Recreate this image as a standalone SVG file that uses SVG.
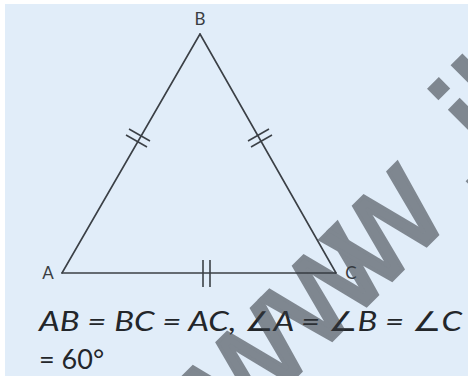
<svg xmlns="http://www.w3.org/2000/svg" width="468" height="376" viewBox="0 0 468 376">
  <style>
    .edge { stroke: #3b4046; stroke-width: 1.6; fill: none; stroke-linecap: round; }
    .tick { stroke: #3b4046; stroke-width: 1.6; fill: none; }
    .lbl { font-family: Lato, "Open Sans", "DejaVu Sans", sans-serif; font-size: 17px; fill: #3a3d42; }
    .eq { font-family: Lato, "DejaVu Sans", sans-serif; font-size: 27px; fill: #23262a; }
    .wm { font-family: "Liberation Sans", Arial, sans-serif; font-size: 150px; fill: #33383f; stroke: #33383f; stroke-width: 3.5; stroke-linejoin: miter; }
  </style>
  <rect x="0" y="0" width="468" height="376" fill="#ffffff"/>
  <rect x="5" y="4" width="463" height="372" fill="#e1edf9"/>

  <g id="connectors">
    <line class="edge" x1="62" y1="273" x2="200" y2="34"/>
    <line class="edge" x1="200" y1="34" x2="336" y2="273"/>
    <line class="edge" x1="62" y1="273" x2="336" y2="273"/>
    <g id="ticks-ab">
      <line class="tick" x1="129" y1="129" x2="150" y2="141"/>
      <line class="tick" x1="126" y1="135" x2="147" y2="147"/>
    </g>
    <g id="ticks-bc">
      <line class="tick" x1="248" y1="141" x2="269" y2="129"/>
      <line class="tick" x1="251" y1="147" x2="272" y2="135"/>
    </g>
    <g id="ticks-ac">
      <line class="tick" x1="203" y1="260" x2="203" y2="287"/>
      <line class="tick" x1="210" y1="260" x2="210" y2="287"/>
    </g>
  </g>

  <g id="node-B"><text class="lbl" x="200" y="25" text-anchor="middle">B</text></g>
  <g id="node-A"><text class="lbl" x="48" y="279" text-anchor="middle">A</text></g>
  <g id="node-C"><text class="lbl" x="351" y="279" text-anchor="middle">C</text></g>

  <g id="caption">
    <text class="eq" x="39" y="331" font-style="italic" textLength="423" lengthAdjust="spacingAndGlyphs">AB = BC = AC, ∠A = ∠B = ∠C</text>
    <text class="eq" x="39" y="369">= 60°</text>
  </g>

  <g id="watermark" opacity="0.56">
    <text class="wm" x="0 108.3 193 325 366.6 400" y="0" transform="translate(240 432) rotate(-45)">www.il</text>
  </g>
</svg>
